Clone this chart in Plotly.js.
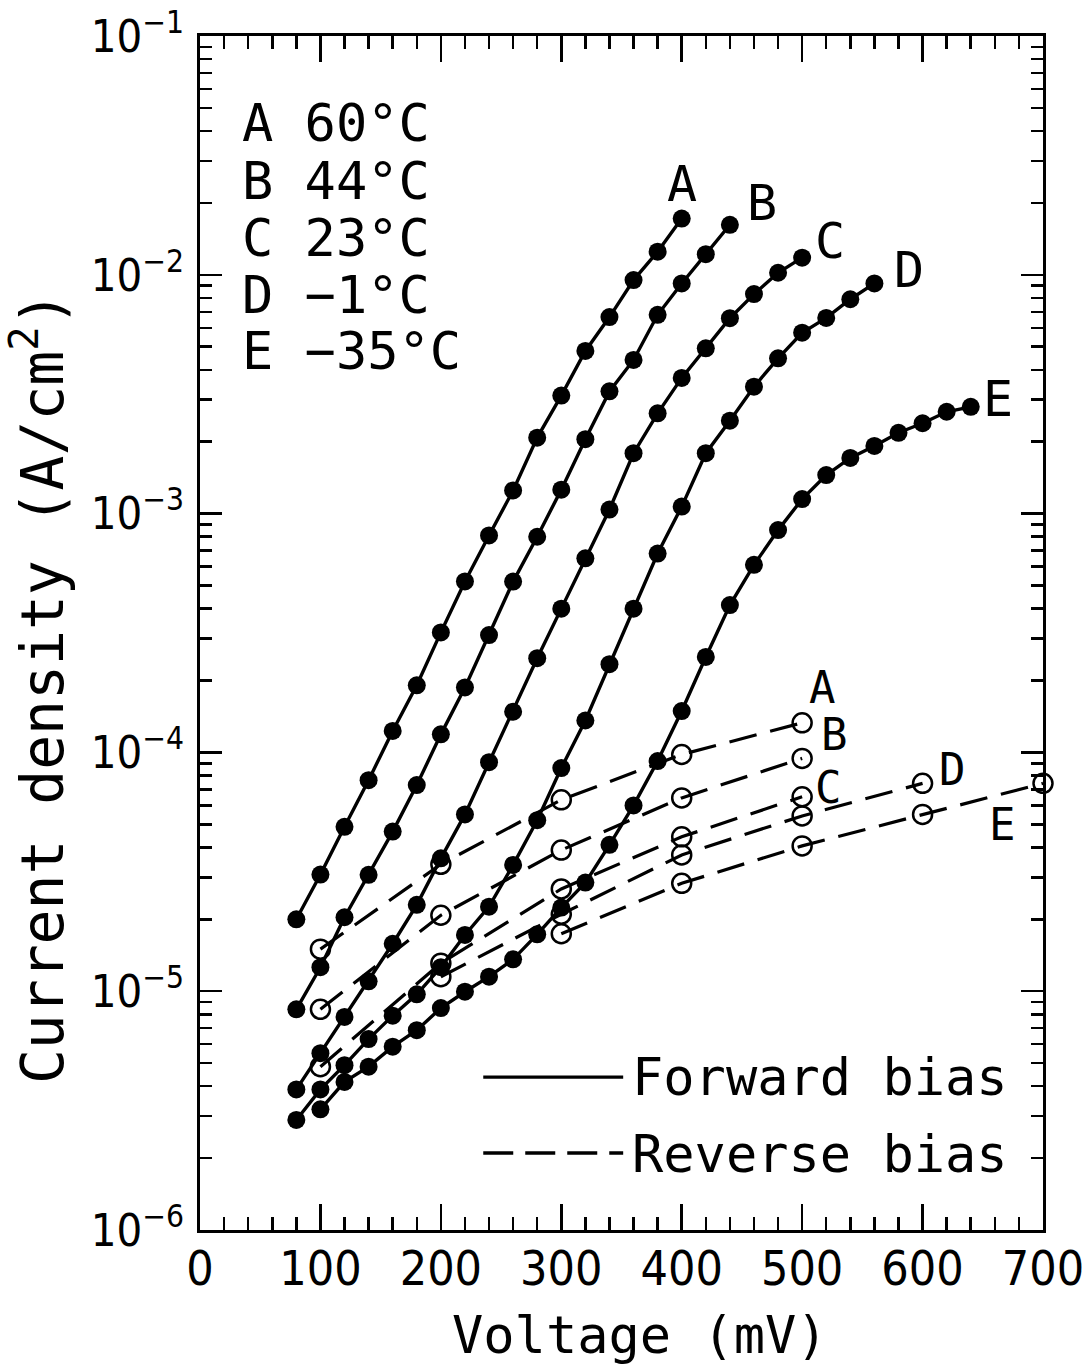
<!DOCTYPE html>
<html>
<head>
<meta charset="utf-8">
<script src="https://cdn.plot.ly/plotly-3.0.1.min.js"></script>
<style>html,body{margin:0;padding:0;background:#fff;}#chart{width:1092px;height:1368px;}</style>
</head>
<body>
<div id="chart"></div>
<script>
// ---- Forward bias data (V in mV, J in A/cm^2) ----
const fwdV_A = [80,100,120,140,160,180,200,220,240,260,280,300,320,340,360,380,400];
const fwdJ_A = [2.0e-5,3.08e-5,4.88e-5,7.65e-5,1.23e-4,1.91e-4,3.18e-4,5.2e-4,8.1e-4,1.25e-3,2.08e-3,3.12e-3,4.8e-3,6.65e-3,9.5e-3,1.25e-2,1.72e-2];

const fwdV_B = [80,100,120,140,160,180,200,220,240,260,280,300,320,340,360,380,400,420,440];
const fwdJ_B = [8.4e-6,1.26e-5,2.04e-5,3.07e-5,4.66e-5,7.3e-5,1.19e-4,1.87e-4,3.1e-4,5.19e-4,8.0e-4,1.26e-3,2.05e-3,3.25e-3,4.4e-3,6.8e-3,9.2e-3,1.22e-2,1.62e-2];

const fwdV_C = [80,100,120,140,160,180,200,220,240,260,280,300,320,340,360,380,400,420,440,460,480,500];
const fwdJ_C = [3.88e-6,5.5e-6,7.8e-6,1.1e-5,1.58e-5,2.3e-5,3.6e-5,5.5e-5,9.1e-5,1.48e-4,2.48e-4,4.0e-4,6.5e-4,1.04e-3,1.79e-3,2.63e-3,3.7e-3,4.92e-3,6.58e-3,8.3e-3,1.02e-2,1.18e-2];

const fwdV_D = [80,100,120,140,160,180,200,220,240,260,280,300,320,340,360,380,400,420,440,460,480,500,520,540,560];
const fwdJ_D = [2.89e-6,3.88e-6,4.9e-6,6.3e-6,7.9e-6,9.7e-6,1.26e-5,1.72e-5,2.26e-5,3.38e-5,5.2e-5,8.6e-5,1.36e-4,2.34e-4,4.0e-4,6.8e-4,1.07e-3,1.79e-3,2.45e-3,3.4e-3,4.47e-3,5.72e-3,6.6e-3,7.9e-3,9.2e-3];

const fwdV_E = [100,120,140,160,180,200,220,240,260,280,300,320,340,360,380,400,420,440,460,480,500,520,540,560,580,600,620,640];
const fwdJ_E = [3.2e-6,4.17e-6,4.83e-6,5.86e-6,6.87e-6,8.5e-6,9.95e-6,1.15e-5,1.36e-5,1.73e-5,2.24e-5,2.85e-5,4.1e-5,6.0e-5,9.2e-5,1.49e-4,2.51e-4,4.14e-4,6.1e-4,8.53e-4,1.15e-3,1.45e-3,1.71e-3,1.92e-3,2.18e-3,2.39e-3,2.67e-3,2.8e-3];

// ---- Reverse bias data ----
const revV_A = [100,200,300,400,500];
const revJ_A = [1.5e-5,3.4e-5,6.33e-5,9.8e-5,1.33e-4];
const revV_B = [100,200,300,400,500];
const revJ_B = [8.4e-6,2.08e-5,3.9e-5,6.45e-5,9.44e-5];
const revV_C = [100,200,300,400,500];
const revJ_C = [4.83e-6,1.31e-5,2.68e-5,4.43e-5,6.52e-5];
const revV_D = [200,300,400,500,600];
const revJ_D = [1.15e-5,2.1e-5,3.72e-5,5.42e-5,7.42e-5];
const revV_E = [300,400,500,600,700];
const revJ_E = [1.74e-5,2.83e-5,4.06e-5,5.5e-5,7.42e-5];

// ---- Labels / ticks ----
const curveNames = ['A','B','C','D','E'];
const temps = ['60°C','44°C','23°C','−1°C','−35°C'];
const xTickVals = [0,100,200,300,400,500,600,700];
const yTickVals = [1e-6,1e-5,1e-4,1e-3,1e-2,1e-1];
const yTickText = ['10<sup>−6</sup>','10<sup>−5</sup>','10<sup>−4</sup>','10<sup>−3</sup>','10<sup>−2</sup>','10<sup>−1</sup>'];
// label anchor positions (V in mV, log10 J)
const fwdLabelV = [400,467,523,589,663];
const fwdLabelLogJ = [-1.62,-1.70,-1.86,-1.98,-2.52];
const revLabelV = [517,527,522,625,666];
const revLabelLogJ = [-3.73,-3.925,-4.145,-4.07,-4.30];

const TXT = 'DejaVu Sans Mono, Liberation Mono, monospace';
const TICK = 'DejaVu Sans Condensed, DejaVu Sans Mono, sans-serif';

const fwd = [[fwdV_A,fwdJ_A],[fwdV_B,fwdJ_B],[fwdV_C,fwdJ_C],[fwdV_D,fwdJ_D],[fwdV_E,fwdJ_E]];
const rev = [[revV_A,revJ_A],[revV_B,revJ_B],[revV_C,revJ_C],[revV_D,revJ_D],[revV_E,revJ_E]];

const traces = [];
rev.forEach((d,i)=>{
  traces.push({x:d[0], y:d[1], type:'scatter', mode:'lines+markers', name:'Reverse '+curveNames[i],
    line:{color:'#000', width:3.2, dash:'28px,14px'},
    marker:{symbol:'circle-open', size:19, color:'#000', line:{width:2.5, color:'#000'}},
    cliponaxis:false, showlegend:false, hoverinfo:'x+y'});
});
fwd.forEach((d,i)=>{
  traces.push({x:d[0], y:d[1], type:'scatter', mode:'lines+markers', name:'Forward '+curveNames[i],
    line:{color:'#000', width:3.4},
    marker:{symbol:'circle', size:18, color:'#000'},
    cliponaxis:false, showlegend:false, hoverinfo:'x+y'});
});

const annotations = [];
curveNames.forEach((n,i)=>{
  annotations.push({x:fwdLabelV[i], y:fwdLabelLogJ[i], xref:'x', yref:'y', text:n, showarrow:false,
    font:{family:TXT, size:50, color:'#000'}, xanchor:'center', yanchor:'middle'});
  annotations.push({x:revLabelV[i], y:revLabelLogJ[i], xref:'x', yref:'y', text:n, showarrow:false,
    font:{family:TXT, size:44, color:'#000'}, xanchor:'center', yanchor:'middle'});
});
// temperature key
const keyLogJ = [-1.364,-1.607,-1.846,-2.085,-2.319];
curveNames.forEach((n,i)=>{
  annotations.push({x:33.5, y:keyLogJ[i], xref:'x', yref:'y', text:n+' '+temps[i], showarrow:false,
    font:{family:TXT, size:52, color:'#000'}, xanchor:'left', yanchor:'middle'});
});
// line-style key
annotations.push({x:357, y:-5.36, xref:'x', yref:'y', text:'Forward bias', showarrow:false,
  font:{family:TXT, size:52, color:'#000'}, xanchor:'left', yanchor:'middle'});
annotations.push({x:357, y:-5.68, xref:'x', yref:'y', text:'Reverse bias', showarrow:false,
  font:{family:TXT, size:52, color:'#000'}, xanchor:'left', yanchor:'middle'});
// axis titles
annotations.push({x:0.522, y:-0.088, xref:'paper', yref:'paper', text:'Voltage (mV)', showarrow:false,
  font:{family:TXT, size:52, color:'#000'}, xanchor:'center', yanchor:'middle'});
annotations.push({x:-0.192, y:0.454, xref:'paper', yref:'paper', text:'Current density (A/cm<sup>2</sup>)', showarrow:false,
  textangle:-90, font:{family:TXT, size:58, color:'#000'}, xanchor:'center', yanchor:'middle'});

const shapes = [
  {type:'line', xref:'paper', yref:'paper', x0:0.336, x1:0.502, y0:0.128, y1:0.128, line:{color:'#000', width:3.4}},
  {type:'line', xref:'paper', yref:'paper', x0:0.336, x1:0.502, y0:0.0645, y1:0.0645, line:{color:'#000', width:3.4, dash:'30px,12px'}}
];

const layout = {
  width:1092, height:1368,
  margin:{l:200, r:49, t:36, b:138},
  paper_bgcolor:'#fff', plot_bgcolor:'#fff',
  showlegend:false,
  font:{family:TICK, color:'#000'},
  xaxis:{range:[0,700], tickvals:xTickVals, ticktext:xTickVals.map(String),
    ticks:'inside', ticklen:26, tickwidth:2.5, tickcolor:'#000',
    showline:true, linewidth:3, linecolor:'#000', mirror:'allticks',
    showgrid:false, zeroline:false,
    minor:{dtick:20, tick0:0, ticks:'inside', ticklen:13, tickwidth:2.5, tickcolor:'#000', showgrid:false},
    tickfont:{family:TICK, size:48, color:'#000'}, ticklabelstandoff:-6},
  yaxis:{type:'log', range:[-6,-1], tickvals:yTickVals, ticktext:yTickText,
    ticks:'inside', ticklen:22, tickwidth:2.5, tickcolor:'#000',
    showline:true, linewidth:3, linecolor:'#000', mirror:'allticks',
    showgrid:false, zeroline:false,
    minor:{dtick:'D1', ticks:'inside', ticklen:12, tickwidth:2.5, tickcolor:'#000', showgrid:false},
    tickfont:{family:TICK, size:45, color:'#000'}, ticklabelstandoff:4},
  annotations:annotations,
  shapes:shapes
};

Plotly.newPlot('chart', traces, layout, {staticPlot:true, displayModeBar:false});
</script>
</body>
</html>
